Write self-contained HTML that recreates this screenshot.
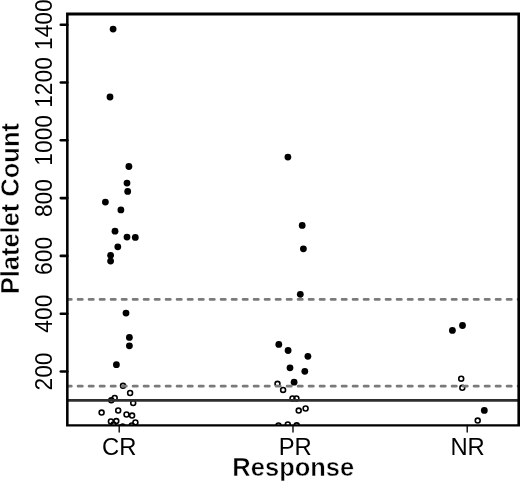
<!DOCTYPE html><html><head><meta charset="utf-8"><style>html,body{margin:0;padding:0;background:#fff;}svg{display:block;will-change:transform;}</style></head><body>
<svg width="520" height="481" viewBox="0 0 520 481">
<rect width="520" height="481" fill="#fff"/>
<defs><clipPath id="pr"><rect x="67.30" y="13.80" width="451.30" height="411.50"/></clipPath></defs>
<g clip-path="url(#pr)">
<circle cx="113.1" cy="29.1" r="3.40" fill="#000"/>
<circle cx="110.0" cy="97.0" r="3.40" fill="#000"/>
<circle cx="128.9" cy="166.5" r="3.40" fill="#000"/>
<circle cx="127.0" cy="183.1" r="3.40" fill="#000"/>
<circle cx="127.7" cy="191.4" r="3.40" fill="#000"/>
<circle cx="105.4" cy="202.1" r="3.40" fill="#000"/>
<circle cx="120.9" cy="209.9" r="3.40" fill="#000"/>
<circle cx="115.0" cy="231.2" r="3.40" fill="#000"/>
<circle cx="127.0" cy="237.1" r="3.40" fill="#000"/>
<circle cx="135.3" cy="237.4" r="3.40" fill="#000"/>
<circle cx="117.8" cy="246.8" r="3.40" fill="#000"/>
<circle cx="110.6" cy="255.3" r="3.40" fill="#000"/>
<circle cx="110.6" cy="261.1" r="3.40" fill="#000"/>
<circle cx="126.0" cy="313.1" r="3.40" fill="#000"/>
<circle cx="129.4" cy="337.4" r="3.40" fill="#000"/>
<circle cx="129.4" cy="345.8" r="3.40" fill="#000"/>
<circle cx="116.4" cy="364.7" r="3.40" fill="#000"/>
<circle cx="287.9" cy="157.1" r="3.40" fill="#000"/>
<circle cx="302.2" cy="225.4" r="3.40" fill="#000"/>
<circle cx="303.4" cy="248.8" r="3.40" fill="#000"/>
<circle cx="300.3" cy="294.3" r="3.40" fill="#000"/>
<circle cx="278.8" cy="344.4" r="3.40" fill="#000"/>
<circle cx="288.1" cy="350.5" r="3.40" fill="#000"/>
<circle cx="307.9" cy="356.3" r="3.40" fill="#000"/>
<circle cx="290.0" cy="367.8" r="3.40" fill="#000"/>
<circle cx="304.8" cy="371.3" r="3.40" fill="#000"/>
<circle cx="294.1" cy="382.2" r="3.40" fill="#000"/>
<circle cx="452.4" cy="330.4" r="3.40" fill="#000"/>
<circle cx="462.5" cy="325.5" r="3.40" fill="#000"/>
<circle cx="484.3" cy="410.4" r="3.40" fill="#000"/>
<circle cx="123.0" cy="385.8" r="2.45" fill="none" stroke="#000" stroke-width="1.60"/>
<circle cx="130.1" cy="393.0" r="2.45" fill="none" stroke="#000" stroke-width="1.60"/>
<circle cx="111.3" cy="400.3" r="2.45" fill="none" stroke="#000" stroke-width="1.60"/>
<circle cx="114.7" cy="397.9" r="2.45" fill="none" stroke="#000" stroke-width="1.60"/>
<circle cx="133.2" cy="403.0" r="2.45" fill="none" stroke="#000" stroke-width="1.60"/>
<circle cx="101.6" cy="412.6" r="2.45" fill="none" stroke="#000" stroke-width="1.60"/>
<circle cx="118.2" cy="410.5" r="2.45" fill="none" stroke="#000" stroke-width="1.60"/>
<circle cx="126.5" cy="414.5" r="2.45" fill="none" stroke="#000" stroke-width="1.60"/>
<circle cx="132.1" cy="415.6" r="2.45" fill="none" stroke="#000" stroke-width="1.60"/>
<circle cx="110.9" cy="421.5" r="2.45" fill="none" stroke="#000" stroke-width="1.60"/>
<circle cx="116.3" cy="421.1" r="2.45" fill="none" stroke="#000" stroke-width="1.60"/>
<circle cx="113.5" cy="424.5" r="2.45" fill="none" stroke="#000" stroke-width="1.60"/>
<circle cx="135.4" cy="422.4" r="2.45" fill="none" stroke="#000" stroke-width="1.60"/>
<circle cx="131.8" cy="425.5" r="2.45" fill="none" stroke="#000" stroke-width="1.60"/>
<circle cx="122.7" cy="426.6" r="2.45" fill="none" stroke="#000" stroke-width="1.60"/>
<circle cx="277.5" cy="383.8" r="2.45" fill="none" stroke="#000" stroke-width="1.60"/>
<circle cx="283.1" cy="389.9" r="2.45" fill="none" stroke="#000" stroke-width="1.60"/>
<circle cx="292.5" cy="398.4" r="2.45" fill="none" stroke="#000" stroke-width="1.60"/>
<circle cx="296.4" cy="398.5" r="2.45" fill="none" stroke="#000" stroke-width="1.60"/>
<circle cx="298.7" cy="410.6" r="2.45" fill="none" stroke="#000" stroke-width="1.60"/>
<circle cx="305.6" cy="408.5" r="2.45" fill="none" stroke="#000" stroke-width="1.60"/>
<circle cx="278.5" cy="425.5" r="2.45" fill="none" stroke="#000" stroke-width="1.60"/>
<circle cx="287.8" cy="424.5" r="2.45" fill="none" stroke="#000" stroke-width="1.60"/>
<circle cx="296.7" cy="425.3" r="2.45" fill="none" stroke="#000" stroke-width="1.60"/>
<circle cx="461.2" cy="378.7" r="2.45" fill="none" stroke="#000" stroke-width="1.60"/>
<circle cx="462.3" cy="387.8" r="2.45" fill="none" stroke="#000" stroke-width="1.60"/>
<circle cx="477.7" cy="420.6" r="2.45" fill="none" stroke="#000" stroke-width="1.60"/>
<line x1="67.1" y1="299.45" x2="520" y2="299.45" stroke="#7a7a7a" stroke-width="2.8" stroke-dasharray="4.2 6.8" stroke-linecap="round"/>
<line x1="67.1" y1="386.2" x2="520" y2="386.2" stroke="#7a7a7a" stroke-width="2.8" stroke-dasharray="4.2 6.8" stroke-linecap="round"/>
<line x1="60" y1="400.4" x2="520" y2="400.4" stroke="#2e2e2e" stroke-width="2.7"/>
</g>
<path d="M66.05 12.55H520V15.6H68.6V424.2H517.4V15H520V426.5H66.05Z" fill="#000"/>
<line x1="60.8" y1="371.50" x2="67.30" y2="371.50" stroke="#000" stroke-width="2.6" stroke-linecap="round"/>
<text transform="translate(52,371.50) rotate(-90) scale(1,1.09)" text-anchor="middle" font-family="'Liberation Sans', sans-serif" font-size="22.8" fill="#000">200</text>
<line x1="60.8" y1="313.70" x2="67.30" y2="313.70" stroke="#000" stroke-width="2.6" stroke-linecap="round"/>
<text transform="translate(52,313.70) rotate(-90) scale(1,1.09)" text-anchor="middle" font-family="'Liberation Sans', sans-serif" font-size="22.8" fill="#000">400</text>
<line x1="60.8" y1="255.90" x2="67.30" y2="255.90" stroke="#000" stroke-width="2.6" stroke-linecap="round"/>
<text transform="translate(52,255.90) rotate(-90) scale(1,1.09)" text-anchor="middle" font-family="'Liberation Sans', sans-serif" font-size="22.8" fill="#000">600</text>
<line x1="60.8" y1="198.10" x2="67.30" y2="198.10" stroke="#000" stroke-width="2.6" stroke-linecap="round"/>
<text transform="translate(52,198.10) rotate(-90) scale(1,1.09)" text-anchor="middle" font-family="'Liberation Sans', sans-serif" font-size="22.8" fill="#000">800</text>
<line x1="60.8" y1="140.30" x2="67.30" y2="140.30" stroke="#000" stroke-width="2.6" stroke-linecap="round"/>
<text transform="translate(52,140.30) rotate(-90) scale(1,1.09)" text-anchor="middle" font-family="'Liberation Sans', sans-serif" font-size="22.8" fill="#000">1000</text>
<line x1="60.8" y1="82.50" x2="67.30" y2="82.50" stroke="#000" stroke-width="2.6" stroke-linecap="round"/>
<text transform="translate(52,82.50) rotate(-90) scale(1,1.09)" text-anchor="middle" font-family="'Liberation Sans', sans-serif" font-size="22.8" fill="#000">1200</text>
<line x1="60.8" y1="24.70" x2="67.30" y2="24.70" stroke="#000" stroke-width="2.6" stroke-linecap="round"/>
<text transform="translate(52,24.70) rotate(-90) scale(1,1.09)" text-anchor="middle" font-family="'Liberation Sans', sans-serif" font-size="22.8" fill="#000">1400</text>
<line x1="119.2" y1="425.30" x2="119.2" y2="432" stroke="#000" stroke-width="1.35" stroke-linecap="round"/>
<text transform="translate(119.20,455.2) scale(1.035,1)" text-anchor="middle" font-family="'Liberation Sans', sans-serif" font-size="23" fill="#000">CR</text>
<line x1="293.0" y1="425.30" x2="293.0" y2="432" stroke="#000" stroke-width="1.35" stroke-linecap="round"/>
<text transform="translate(295.20,455.2) scale(1.035,1)" text-anchor="middle" font-family="'Liberation Sans', sans-serif" font-size="23" fill="#000">PR</text>
<line x1="467.2" y1="425.30" x2="467.2" y2="432" stroke="#000" stroke-width="1.35" stroke-linecap="round"/>
<text transform="translate(467.60,455.2) scale(1.035,1)" text-anchor="middle" font-family="'Liberation Sans', sans-serif" font-size="23" fill="#000">NR</text>
<text x="293.3" y="475.8" text-anchor="middle" font-family="'Liberation Sans', sans-serif" font-weight="bold" font-size="25.5" fill="#000" stroke="#fff" stroke-width="0.5">Response</text>
<text transform="translate(18.9,208.7) rotate(-90) scale(1,1.04)" text-anchor="middle" font-family="'Liberation Sans', sans-serif" font-weight="bold" font-size="25.5" fill="#000" stroke="#fff" stroke-width="0.5">Platelet Count</text>
</svg></body></html>
